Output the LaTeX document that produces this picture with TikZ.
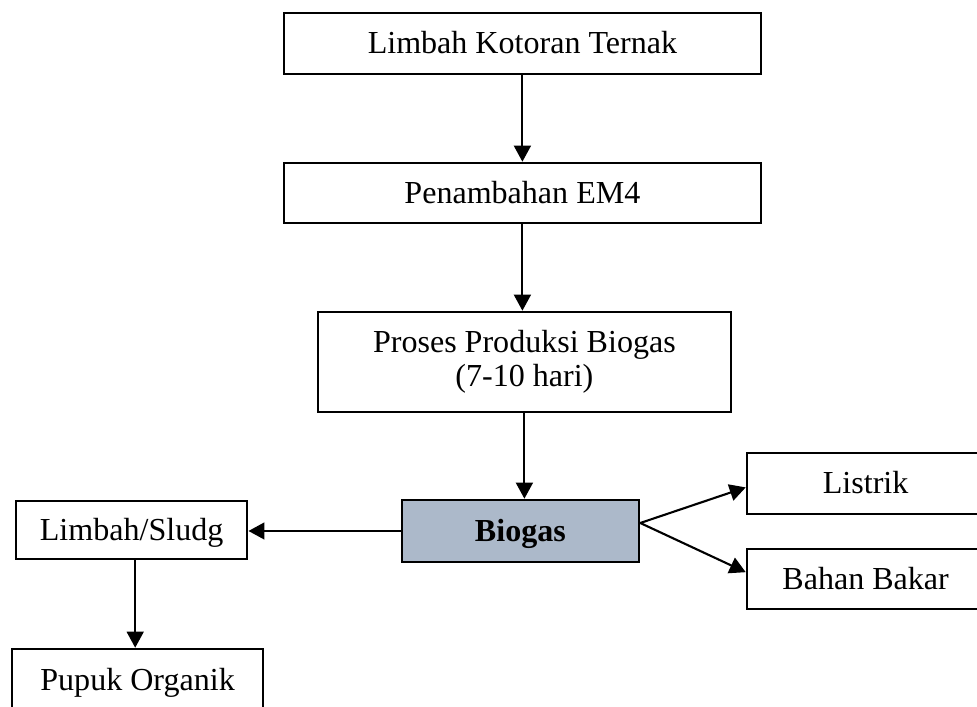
\documentclass[tikz,border=0pt]{standalone}
\usepackage{fontspec}
\setmainfont{Liberation Serif}
\usetikzlibrary{arrows.meta,positioning,calc}
\definecolor{ink}{HTML}{000000}
\definecolor{slate}{HTML}{ACB9CA}
\tikzset{
  every node/.style={font=\fontsize{22.8}{24.2}\selectfont},
  box/.style={draw=ink, line width=1.8pt, fill=white, align=center, inner sep=0pt, text height=20.5pt, text depth=5.5pt},
  mainbox/.style={box, fill=slate, font=\fontsize{22.8}{24.2}\selectfont\bfseries},
  arrow/.style={-{Triangle[length=0.4cm,width=0.42cm]}, line width=1.5pt, draw=ink},
}
\begin{document}
\begin{tikzpicture}
\useasboundingbox (0,0) rectangle (24.425,17.675);
\node[box, minimum width=11.93cm, minimum height=1.53cm] (kotoran) at (13.06,16.59) {Limbah Kotoran Ternak};
\node[box, minimum width=11.93cm, minimum height=1.5cm] (em4) at (13.06,12.85) {Penambahan EM4};
\node[box, minimum width=10.33cm, minimum height=2.5cm, text height=, text depth=] (proses) at (13.11,8.625) {Proses Produksi Biogas\\(7-10 hari)};
\node[mainbox, minimum width=5.93cm, minimum height=1.55cm] (biogas) at (13.01,4.4) {Biogas};
\node[box, minimum width=5.78cm, minimum height=1.45cm] (sludge) at (3.29,4.425) {Limbah/Sludg};
\node[box, minimum width=6.28cm, minimum height=1.55cm] (pupuk) at (3.44,0.675) {Pupuk Organik};
\node[box, minimum width=5.93cm, minimum height=1.53cm] (listrik) at (21.64,5.59) {Listrik};
\node[box, minimum width=5.93cm, minimum height=1.5cm] (bahan) at (21.64,3.2) {Bahan Bakar};
\coordinate (fork) at ([yshift=0.2cm]biogas.east);
\draw[arrow] (kotoran.south) -- (em4.north);
\draw[arrow] (em4.south) -- (em4.south |- proses.north);
\draw[arrow] (proses.south) -- (proses.south |- biogas.north);
\draw[arrow] (biogas.west) -- (biogas.west -| sludge.east);
\draw[arrow] ([xshift=0.09cm]sludge.south) -- ([xshift=0.09cm]sludge.south |- pupuk.north);
\draw[arrow] (fork) -- ([yshift=-0.1cm]listrik.west);
\draw[arrow] (fork) -- ([yshift=0.17cm]bahan.west);
\end{tikzpicture}
\end{document}
